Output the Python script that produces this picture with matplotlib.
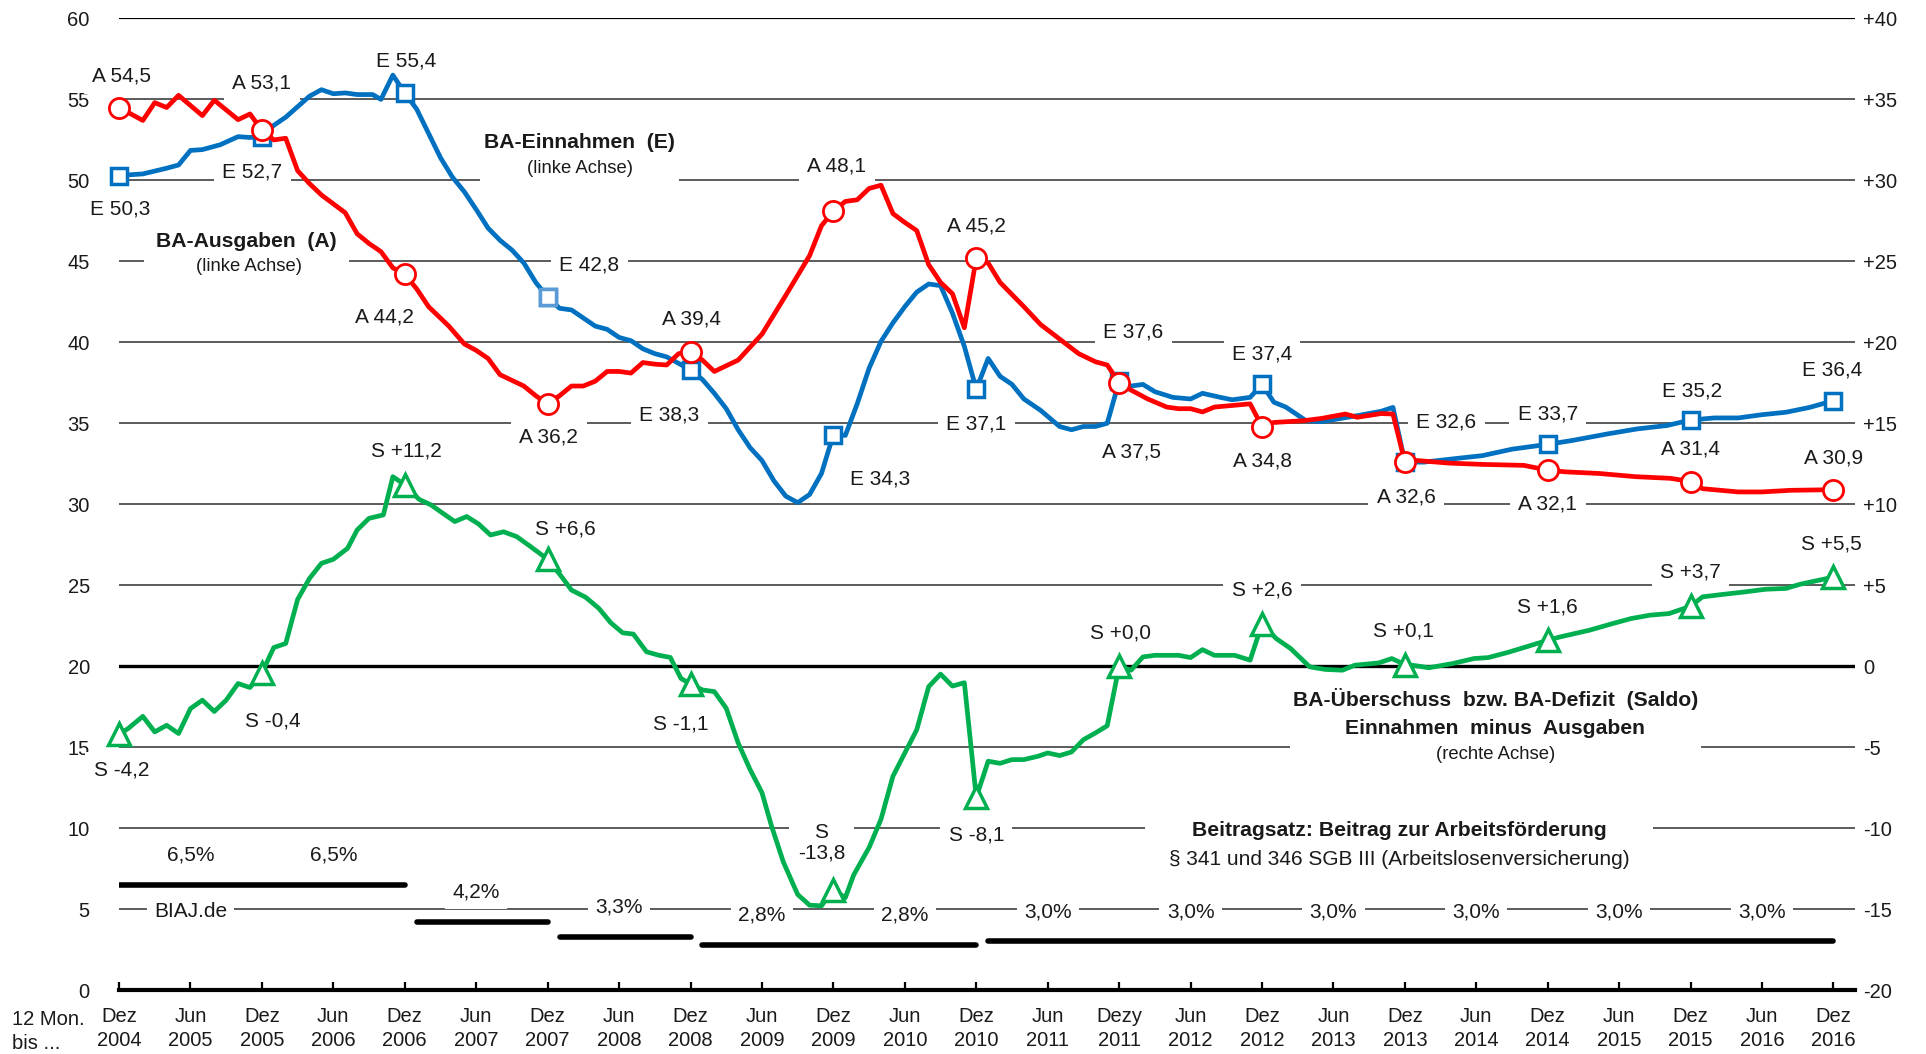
import matplotlib
matplotlib.use('Agg')
import matplotlib.pyplot as plt
from matplotlib.patches import Rectangle
from matplotlib.transforms import Bbox

plt.rcParams['font.family'] = ['Liberation Sans', 'DejaVu Sans']

# ---------------- data (x = months since Dez 2004) ----------------
tick_months = list(range(0, 145, 6))
tick_labels = ['Dez\n2004', 'Jun\n2005', 'Dez\n2005', 'Jun\n2006', 'Dez\n2006', 'Jun\n2007',
               'Dez\n2007', 'Jun\n2008', 'Dez\n2008', 'Jun\n2009', 'Dez\n2009', 'Jun\n2010',
               'Dez\n2010', 'Jun\n2011', 'Dezy\n2011', 'Jun\n2012', 'Dez\n2012', 'Jun\n2013',
               'Dez\n2013', 'Jun\n2014', 'Dez\n2014', 'Jun\n2015', 'Dez\n2015', 'Jun\n2016',
               'Dez\n2016']

# BA-Einnahmen (E), Mrd. Euro, linke Achse
e_months = [0, 2, 4, 5, 6, 7, 8.5, 10, 11, 12, 13, 14, 16, 17, 18, 19, 20, 21.3, 22, 23, 24,
            25, 26, 27, 28, 29, 30, 31, 32, 33, 34, 35, 36, 37, 38, 39, 40, 41, 42, 43, 44,
            45, 46, 47, 48, 49, 50, 51, 52, 53, 54, 55, 56, 57, 58, 59, 60, 61, 62, 63, 64,
            65, 66, 67, 68, 69, 70, 71, 72, 73, 74, 75, 76, 77.4, 79, 80, 81, 82, 83, 84,
            85, 86, 87, 88.5, 90, 91, 92.5, 93.5, 95, 96, 97, 98, 99.7, 101, 104, 106, 107,
            108, 109.6, 112, 114.5, 117, 120, 122, 125, 127.5, 130, 132, 134, 136, 138, 140,
            142, 144]
e_values = [50.3, 50.4, 50.75, 50.95, 51.85, 51.9, 52.2, 52.7, 52.65, 52.7, 53.4, 53.9, 55.2,
            55.6, 55.35, 55.4, 55.3, 55.3, 55.0, 56.5, 55.4,
            54.4, 52.9, 51.4, 50.2, 49.3, 48.2, 47.05, 46.3, 45.7, 44.9, 43.7, 42.8, 42.1,
            42.0, 41.5, 41.0, 40.8, 40.3, 40.1, 39.6,
            39.3, 39.1, 38.7, 38.3, 37.7, 36.85, 35.9, 34.6, 33.5, 32.7, 31.45, 30.5, 30.1,
            30.6, 31.9, 34.3, 34.25, 36.2, 38.4, 40.06,
            41.2, 42.2, 43.1, 43.6, 43.5, 41.8, 39.75, 37.1, 39.0, 37.9, 37.4, 36.5, 35.8,
            34.8, 34.6, 34.8, 34.8, 35.0, 37.6,
            37.3, 37.4, 36.95, 36.6, 36.5, 36.85, 36.6, 36.45, 36.6, 37.4, 36.3, 36.0, 35.16,
            35.1, 35.47, 35.74, 35.98,
            32.6, 32.6, 32.8, 33.0, 33.4, 33.7, 33.93, 34.34, 34.65, 34.86, 35.2, 35.33,
            35.33, 35.53, 35.68, 35.98, 36.4]

# BA-Ausgaben (A), Mrd. Euro, linke Achse
a_months = [0, 2, 3, 4, 5, 7, 8, 10, 11, 12, 13, 14, 15, 16, 17, 19, 20, 21, 22, 23, 24,
            25, 26, 27.7, 29, 30, 31, 32, 34, 35, 36, 37, 38, 39, 40, 41, 42, 43, 44, 45,
            46, 47, 48, 49, 50, 52, 54, 56, 58, 59, 60, 61, 62, 63, 64, 65, 66, 67, 68, 69,
            70, 71, 72, 73, 74, 76, 77.4, 79, 80.6, 82, 83, 84, 85, 86.4, 88, 89, 90, 91,
            92, 93.5, 95, 96, 97, 99.5, 101, 103, 104, 106, 107, 108, 109, 111.7, 114.5,
            118, 120, 121.5, 124.3, 127.4, 130.3, 132, 133, 136, 138, 140.4, 144]
a_values = [54.5, 53.7, 54.8, 54.5, 55.25, 54.0, 54.95, 53.75, 54.1, 53.1, 52.5, 52.6, 50.6,
            49.8, 49.1, 48.0, 46.7, 46.1, 45.6, 44.6, 44.2,
            43.3, 42.2, 41.0, 39.9, 39.5, 39.0, 38.0, 37.3, 36.7, 36.2, 36.7, 37.3, 37.3,
            37.6, 38.2, 38.2, 38.1, 38.75, 38.65,
            38.6, 39.3, 39.4, 38.9, 38.2, 38.9, 40.5, 42.9, 45.35, 47.2, 48.1, 48.7, 48.8,
            49.5, 49.7, 47.95, 47.4, 46.9, 44.8, 43.7,
            43.0, 40.9, 45.2, 44.9, 43.7, 42.2, 41.1, 40.2, 39.3, 38.8, 38.6, 37.5, 37.05,
            36.5, 36.0, 35.9, 35.9, 35.7,
            36.0, 36.1, 36.2, 34.8, 35.05, 35.16, 35.3, 35.57, 35.37, 35.6, 35.57, 32.6,
            32.7, 32.54, 32.46,
            32.4, 32.1, 32.0, 31.9, 31.7, 31.6, 31.4, 30.96, 30.76, 30.76, 30.86, 30.9]

# Saldo (S) = Ueberschuss/Defizit, Mrd. Euro, rechte Achse
s_months = [0, 0.75, 2, 3, 4, 5, 6, 7, 8, 9, 10, 11, 12, 13, 14, 15, 16, 17, 18, 19.2, 20,
            21, 22.2, 23, 24, 25.2, 26.2, 27.2, 28.2, 29.2, 30.2, 31.2, 32.3, 33.4, 34.5,
            36, 37.2, 38, 39.2, 40.3, 41.3, 42.3, 43.2, 44.3, 45.3, 46.3, 47.2, 48, 49, 50,
            51, 52, 53, 54, 54.8, 55.8, 57, 58, 59, 60, 61, 61.7, 63, 64, 65, 66, 67, 68,
            69, 70, 71, 72, 73, 74, 75, 76, 77.2, 78, 79, 80, 81, 82, 83, 84, 85, 86, 87,
            89, 90, 91, 92, 93.7, 95, 96, 97.2, 98.4, 100, 101.3, 102.75, 103.8, 105.8,
            106.9, 108, 109, 110, 112, 113.8, 115, 116.6, 118, 120, 121, 123.5, 125.3, 127,
            128.6, 130.2, 132, 133, 134.8, 136.6, 138.3, 140, 141.2, 144]
s_values = [-4.2, -3.86, -3.1, -4.06, -3.65, -4.16, -2.62, -2.1, -2.8, -2.1, -1.07, -1.32,
            -0.4, 1.15, 1.4, 4.12, 5.42, 6.35, 6.6, 7.28, 8.41,
            9.13, 9.34, 11.7, 11.2, 10.3, 9.96, 9.44, 8.93, 9.24, 8.78, 8.1, 8.3, 8.0, 7.42,
            6.6, 5.5, 4.7, 4.25, 3.57, 2.68, 2.06, 1.98, 0.89, 0.68, 0.54, -0.76, -1.1,
            -1.47, -1.57,
            -2.6, -4.74, -6.38, -7.81, -9.86, -12.1, -14.1, -14.76, -14.8, -13.8, -14.3,
            -12.9, -11.2, -9.45, -6.8, -5.36, -3.93, -1.27,
            -0.49, -1.23, -1.02, -8.1, -5.87, -6.0, -5.77, -5.77, -5.56, -5.36, -5.52, -5.3,
            -4.54, -4.13, -3.68, 0.0, -0.25, 0.57, 0.67,
            0.67, 0.53, 1.02, 0.67, 0.67, 0.37, 2.6, 1.7, 1.09, -0.04, -0.2, -0.25, 0.06,
            0.2,
            0.47, 0.1, 0.02, -0.1, 0.16, 0.47, 0.53, 0.84, 1.15, 1.6, 1.8, 2.22, 2.6, 2.94,
            3.15, 3.25, 3.7, 4.28, 4.44, 4.59, 4.75, 4.8, 5.06, 5.5]

# labelled values at each December
marker_months = [0, 12, 24, 36, 48, 60, 72, 84, 96, 108, 120, 132, 144]
e_marker = [50.3, 52.7, 55.4, 42.8, 38.3, 34.3, 37.1, 37.6, 37.4, 32.6, 33.7, 35.2, 36.4]
a_marker = [54.5, 53.1, 44.2, 36.2, 39.4, 48.1, 45.2, 37.5, 34.8, 32.6, 32.1, 31.4, 30.9]
s_marker = [-4.2, -0.4, 11.2, 6.6, -1.1, -13.8, -8.1, 0.0, 2.6, 0.1, 1.6, 3.7, 5.5]

# Beitragssatz (contribution rate, %), segments in months
rate_values = [6.5, 4.2, 3.3, 2.8, 3.0]
rate_start = [0, 25, 37, 49, 73]
rate_end = [24, 36, 48, 72, 144]
year_rates = [6.5, 6.5, 4.2, 3.3, 2.8, 2.8, 3.0, 3.0, 3.0, 3.0, 3.0, 3.0]  # 2005..2016

# ---------------- layout / style ----------------
BLUE = '#0070C0'
BLUE_LIGHT = '#5B9BD5'
RED = '#FF0000'
GREEN = '#00B050'
TXT = '#1a1a1a'
GRID = '#404040'

e_label_xy = [(0.1, 48.25), (11.2, 50.5), (24.1, 57.35), (39.5, 44.8), (46.2, 35.5),
              (63.9, 31.55), (72, 34.97), (85.2, 40.66), (96, 39.3), (111.5, 35.05),
              (120, 35.58), (132.1, 37.0), (143.9, 38.3)]
a_label_xy = [(0.2, 56.44), (12, 56.0), (22.3, 41.57), (36.1, 34.14), (48.1, 41.42),
              (60.3, 50.9), (72, 47.2), (85, 33.2), (96, 32.7), (108.1, 30.42),
              (120, 30.04), (132, 33.4), (144, 32.85)]
s_label_xy = [(0.2, 13.58), (12.9, 16.6), (24.1, 33.3), (37.5, 28.45), (47.2, 16.4),
              (59, 9.1), (72, 9.56), (84.1, 22.07), (96, 24.73), (107.9, 22.15),
              (120, 23.67), (132, 25.8), (143.8, 27.54)]

FS = 15
FS_TICK = 14.5
FS_SUB = 13.3
LW = 3.4


def de(v, fmt='{:.1f}'):
    return fmt.format(v).replace('.', ',')


fig = plt.figure(figsize=(19.26, 10.54), dpi=100)
ax = fig.add_axes([0.0618, 0.0607, 0.9013, 0.9218])
ax2 = ax.twinx()
ax.set_xlim(0, 145.8)
ax.set_ylim(0, 60)
ax2.set_ylim(-20, 40)
ax.patch.set_visible(False)
fig.patch.set_facecolor('white')

for sp in ['top', 'left', 'right']:
    ax.spines[sp].set_visible(False)
ax.spines['bottom'].set_linewidth(3)
ax.spines['bottom'].set_color('black')
for sp in ax2.spines.values():
    sp.set_visible(False)

# gridlines
for v in range(5, 61, 5):
    if v == 20:
        ax.axhline(v, color='black', lw=2.4, zorder=1)
    elif v == 60:
        ax.axhline(v, color='black', lw=1.6, zorder=1)
    else:
        ax.axhline(v, color=GRID, lw=1.2, zorder=1)

# ticks
ax.set_yticks(range(0, 61, 5))
ax.set_yticklabels([str(v) for v in range(0, 61, 5)])
ax.tick_params(axis='y', length=0, pad=21, labelsize=FS_TICK, labelcolor=TXT)
ax2.set_yticks(range(-20, 41, 5))
ax2.set_yticklabels([('+%d' % v) if v > 0 else str(v) for v in range(-20, 41, 5)])
ax2.tick_params(axis='y', length=0, pad=6, labelsize=FS_TICK, labelcolor=TXT)
ax.set_xticks(tick_months)
ax.set_xticklabels(tick_labels, linespacing=1.35)
ax.tick_params(axis='x', direction='in', length=6, width=1.6, pad=12,
               labelsize=FS_TICK, labelcolor=TXT, color='black')
fig.text(0.006, 0.0607 - 0.0185, '12 Mon.\nbis ...', ha='left', va='top',
         fontsize=FS_TICK, color=TXT, linespacing=1.35)

# contribution rate bars
for val, x0, x1 in zip(rate_values, rate_start, rate_end):
    ax.plot([x0, x1], [val, val], color='black', lw=4, solid_capstyle='round', zorder=3)
for i, r in enumerate(year_rates):
    ax.text(6 + 12 * i, r + 1.83, de(r) + '%', ha='center', va='center', fontsize=FS,
            color=TXT, zorder=2,
            bbox=dict(boxstyle='square,pad=0.35', fc='white', ec='none'))
ax.text(6, 4.86, 'BIAJ.de', ha='center', va='center', fontsize=FS, color=TXT, zorder=2,
        bbox=dict(boxstyle='square,pad=0.35', fc='white', ec='none'))

# series lines
ax.plot(e_months, e_values, color=BLUE, lw=LW, zorder=3, clip_on=False, solid_joinstyle='round')
ax.plot(marker_months, e_marker, ls='none', marker='s', ms=12, mfc='white', mec=BLUE, mew=2.5,
        zorder=4, clip_on=False)
ax.plot(marker_months[3:4], e_marker[3:4], ls='none', marker='s', ms=12, mfc='white',
        mec=BLUE_LIGHT, mew=2.5, zorder=4.1, clip_on=False)
ax.plot(a_months, a_values, color=RED, lw=LW, zorder=5, clip_on=False, solid_joinstyle='round')
ax.plot(marker_months, a_marker, ls='none', marker='o', ms=14.5, mfc='white', mec=RED, mew=2,
        zorder=6, clip_on=False)
ax2.plot(s_months, s_values, color=GREEN, lw=LW, zorder=3, clip_on=False, solid_joinstyle='round')
ax2.plot(marker_months, s_marker, ls='none', marker='^', ms=16, mfc='white', mec=GREEN,
         mew=2.5, zorder=4, clip_on=False)

# value labels
lab_box = dict(boxstyle='square,pad=0.4', fc='white', ec='none')
for (x, y), v in zip(e_label_xy, e_marker):
    ax.text(x, y, 'E ' + de(v), ha='center', va='center', fontsize=FS, color=TXT,
            zorder=2, bbox=lab_box)
for (x, y), v in zip(a_label_xy, a_marker):
    ax.text(x, y, 'A ' + de(v), ha='center', va='center', fontsize=FS, color=TXT,
            zorder=2, bbox=lab_box)
for (x, y), v in zip(s_label_xy, s_marker):
    s = de(v, '{:+.1f}')
    txt = 'S\n' + s if v < -10 else 'S ' + s
    ax.text(x, y, txt, ha='center', va='center', fontsize=FS, color=TXT, zorder=2,
            bbox=lab_box, linespacing=1.15)

# annotation blocks with white background behind grid
blocks = [
    ([('BA-Einnahmen  (E)', 38.7, 52.35, 'bold', 15.2),
      ('(linke Achse)', 38.7, 50.75, 'normal', FS_SUB)], 4),
    ([('BA-Ausgaben  (A)', 10.7, 46.2, 'bold', 15.2),
      ('(linke Achse)', 10.9, 44.7, 'normal', FS_SUB)], 12),
    ([('BA-Überschuss  bzw. BA-Defizit  (Saldo)', 115.6, 17.98, 'bold', 15.2),
      ('Einnahmen  minus  Ausgaben', 115.6, 16.16, 'bold', 15.2),
      ('(rechte Achse)', 115.6, 14.56, 'normal', FS_SUB)], 3),
    ([('Beitragsatz: Beitrag zur Arbeitsförderung', 107.5, 9.86, 'bold', 15.2),
      ('§ 341 und 346 SGB III (Arbeitslosenversicherung)', 107.5, 8.04, 'normal', FS)], 24),
]
made = []
for items, pad in blocks:
    ts = [ax.text(x, y, t, ha='center', va='center', fontsize=fs, fontweight=w, color=TXT,
                  zorder=2) for (t, x, y, w, fs) in items]
    made.append((ts, pad))

fig.canvas.draw()
rend = fig.canvas.get_renderer()
inv = ax.transData.inverted()
for ts, pad in made:
    bb = Bbox.union([t.get_window_extent(rend) for t in ts]).padded(pad)
    (x0, y0), (x1, y1) = inv.transform([[bb.x0, bb.y0], [bb.x1, bb.y1]])
    ax.add_patch(Rectangle((x0, y0), x1 - x0, y1 - y0, fc='white', ec='none', zorder=1.5,
                           clip_on=False))

fig.savefig('out.png', dpi=100, facecolor='white')
